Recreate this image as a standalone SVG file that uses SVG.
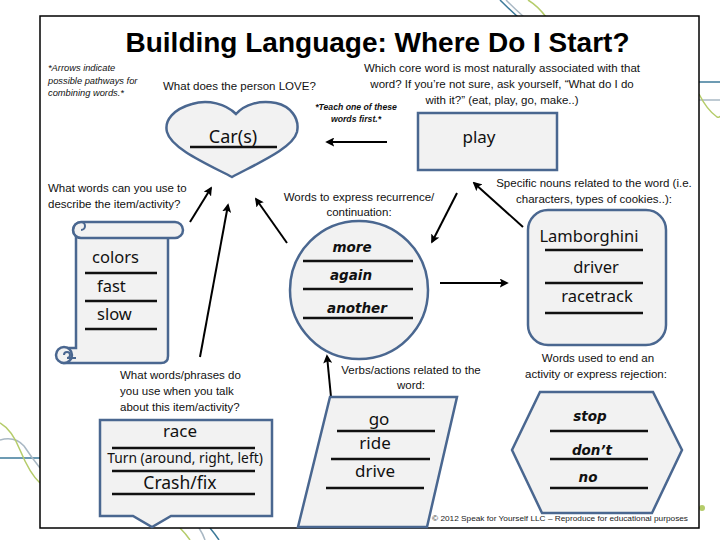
<svg xmlns="http://www.w3.org/2000/svg" width="720" height="540" viewBox="0 0 720 540">
<defs>
<marker id="ah" viewBox="0 0 10 10" refX="8" refY="5" markerWidth="4.5" markerHeight="4.5" markerUnits="strokeWidth" orient="auto">
<path d="M0,0 L10,5 L0,10 L2,5 z" fill="#000"/>
</marker>
<style>
.t{font-family:"Liberation Sans",Arial,sans-serif;font-size:11.5px;fill:#111}
.it{font-family:"Liberation Sans",Arial,sans-serif;font-style:italic;font-size:9.3px;fill:#111}
.bi{font-family:"Liberation Sans",Arial,sans-serif;font-style:italic;font-weight:bold;font-size:8.7px;fill:#111}
.hw{font-family:"Noto Sans",sans-serif;font-size:16.5px;fill:#111;text-anchor:middle}
.cb{font-family:"DejaVu Sans",sans-serif;font-weight:bold;font-style:italic;font-size:13.5px;fill:#111;text-anchor:middle}
.sh{fill:#f2f2f2;stroke:#4a6790;stroke-width:2.5}
.ul{stroke:#111;stroke-width:2.5;fill:none}
.c{text-anchor:middle}
.ar{stroke:#000;stroke-width:2;fill:none;marker-end:url(#ah)}
.deco{fill:none;stroke-width:1.5}
</style>
</defs>
<rect width="720" height="540" fill="#fff"/>
<!-- decorative lines outside frame -->
<g id="decoration">
<path class="deco" stroke="#3d7a9a" d="M500,0 Q508,8 518,17"/>
<path class="deco" stroke="#a9b8c4" d="M506,0 Q514,8 524,17"/>
<path class="deco" stroke="#b5cc6a" d="M528,0 Q538,6 546,17"/>
<path class="deco" stroke="#3d7a9a" d="M699,82 H720"/>
<path class="deco" stroke="#a9b8c4" d="M699,100 H720"/>
<path class="deco" stroke="#b5cc6a" d="M699,94 Q707,110 717,117 Q719,118 720,116"/>
<path class="deco" stroke="#3d7a9a" d="M0,458 H40"/>
<path class="deco" stroke="#a9b8c4" d="M0,440 Q15,436 24,446 Q32,458 40,468"/>
<path class="deco" stroke="#b5cc6a" d="M0,423 Q12,430 20,450 Q30,474 40,483"/>
<path class="deco" stroke="#b5cc6a" d="M180,528 Q186,534 190,540"/>
<path class="deco" stroke="#a9b8c4" d="M199,528 Q203,534 205,540"/>
<path class="deco" stroke="#3d7a9a" d="M210,528 Q215,534 219,540"/>
<circle cx="702" cy="508" r="3" fill="#b5cc6a"/>
</g>
<!-- frame -->
<rect id="frame" x="40" y="16" width="659" height="512" fill="#fff" stroke="#000" stroke-width="1.5"/>
<g id="title">
<text x="377.5" y="52" class="c" style="font-family:'Liberation Sans',Arial,sans-serif;font-weight:bold;font-size:28px;fill:#000">Building Language: Where Do I Start?</text>
</g>
<g id="notes">
<text class="it" x="48" y="71">*Arrows indicate</text>
<text class="it" x="48" y="84">possible pathways for</text>
<text class="it" x="48" y="96">combining words.*</text>
<text class="bi c" x="356" y="110">*Teach one of these</text>
<text class="bi c" x="356" y="122">words first.*</text>
<text class="t" x="163" y="90">What does the person LOVE?</text>
<text class="t c" x="502" y="72">Which core word is most naturally associated with that</text>
<text class="t c" x="502" y="88">word? If you’re not sure, ask yourself, “What do I do</text>
<text class="t c" x="502" y="104">with it?” (eat, play, go, make..)</text>
<text class="t" x="48" y="192">What words can you use to</text>
<text class="t" x="48" y="208">describe the item/activity?</text>
<text class="t c" x="359" y="201">Words to express  recurrence/</text>
<text class="t c" x="359" y="216">continuation:</text>
<text class="t c" x="594" y="187">Specific nouns related to the word (i.e.</text>
<text class="t c" x="594" y="203">characters, types of cookies..):</text>
<text class="t c" x="598" y="362">Words used to end an</text>
<text class="t c" x="596" y="378">activity or express rejection:</text>
<text class="t c" x="411" y="374">Verbs/actions related to the</text>
<text class="t c" x="411" y="389">word:</text>
<text class="t" x="120" y="379">What words/phrases do</text>
<text class="t" x="120" y="395">you use when you talk</text>
<text class="t" x="120" y="411">about this item/activity?</text>
<text x="432" y="521" style="font-family:'Liberation Sans',Arial,sans-serif;font-size:8px;fill:#222" textLength="256" lengthAdjust="spacingAndGlyphs">© 2012 Speak for Yourself LLC – Reproduce for educational purposes</text>
</g>
<g id="connectors">
<line class="ar" x1="387" y1="142" x2="327" y2="142"/>
<line class="ar" x1="190" y1="222" x2="211" y2="188"/>
<line class="ar" x1="200" y1="357" x2="228" y2="205"/>
<line class="ar" x1="287" y1="243" x2="256" y2="199"/>
<line class="ar" x1="457" y1="193" x2="432" y2="242"/>
<line class="ar" x1="523" y1="227" x2="474" y2="183"/>
<line class="ar" x1="440" y1="283" x2="507" y2="283"/>
<line class="ar" x1="331" y1="397" x2="327" y2="356"/>
</g>
<g id="heart">
<path class="sh" d="M236,114 C226,104 208,99 192,104 C174,109 164,120 167,132 C171,148 205,163 232,177 C258,163 293,148 297,132 C300,118 290,106 276,103 C260,100 245,104 236,114 Z"/>
<text class="hw" x="233" y="143" style="font-size:18px">Car(s)</text>
<line class="ul" x1="190" y1="147" x2="277" y2="147"/>
</g>
<g id="play">
<rect class="sh" x="418" y="113" width="139" height="57"/>
<text class="hw" x="479" y="143" style="font-size:17px">play</text>
</g>
<g id="describe-scroll">
<path class="sh" d="M76,234 H168 V356 Q168,363 161,363 H64 V348 H76 Z"/>
<circle class="sh" cx="64" cy="355" r="8"/>
<path d="M64,355 a3,3 0 1 1 3,3 H76" fill="none" stroke="#4a6790" stroke-width="2"/>
<rect class="sh" x="73" y="222" width="110" height="16" rx="8"/>
<path d="M81,238 a8,8 0 0 1 0,-16 a4,4 0 0 1 0,8" fill="none" stroke="#4a6790" stroke-width="2"/>
<text class="hw" x="92" y="263" style="text-anchor:start">colors</text>
<line class="ul" x1="85" y1="273" x2="157" y2="273"/>
<text class="hw" x="97" y="292" style="text-anchor:start">fast</text>
<line class="ul" x1="85" y1="301" x2="157" y2="301"/>
<text class="hw" x="97" y="320" style="text-anchor:start">slow</text>
<line class="ul" x1="85" y1="329" x2="157" y2="329"/>
</g>
<g id="recurrence-circle">
<circle class="sh" cx="359" cy="290" r="69"/>
<text class="cb" x="352" y="252">more</text>
<line class="ul" x1="303" y1="261" x2="413" y2="261"/>
<text class="cb" x="351" y="280">again</text>
<line class="ul" x1="303" y1="289" x2="413" y2="289"/>
<text class="cb" x="357" y="313">another</text>
<line class="ul" x1="303" y1="318" x2="413" y2="318"/>
</g>
<g id="nouns-box">
<rect class="sh" x="528" y="210" width="138" height="135" rx="20"/>
<text class="hw" x="589" y="242">Lamborghini</text>
<line class="ul" x1="545" y1="250" x2="643" y2="250"/>
<text class="hw" x="596" y="273">driver</text>
<line class="ul" x1="545" y1="283" x2="643" y2="283"/>
<text class="hw" x="597" y="302">racetrack</text>
<line class="ul" x1="545" y1="313" x2="643" y2="313"/>
</g>
<g id="phrases-callout">
<path class="sh" d="M100,420 H272 V516 H171 L152,527 L133,516 H100 Z"/>
<text class="hw" x="180" y="437" style="font-size:17px">race</text>
<line class="ul" x1="112" y1="448" x2="255" y2="448"/>
<text class="hw" x="185" y="463" style="font-size:13.8px">Turn (around, right, left)</text>
<line class="ul" x1="112" y1="471" x2="255" y2="471"/>
<text class="hw" x="180" y="489" style="font-size:17.5px">Crash/fix</text>
<line class="ul" x1="112" y1="494" x2="255" y2="494"/>
</g>
<g id="verbs-parallelogram">
<path class="sh" d="M330,397 H457 L427,527 H298 Z"/>
<text class="hw" x="379" y="425" style="font-size:17px">go</text>
<line class="ul" x1="337" y1="431" x2="435" y2="431"/>
<text class="hw" x="375" y="449" style="font-size:17px">ride</text>
<line class="ul" x1="331" y1="459" x2="430" y2="459"/>
<text class="hw" x="375" y="477" style="font-size:17px">drive</text>
<line class="ul" x1="326" y1="488" x2="424" y2="488"/>
</g>
<g id="rejection-hexagon">
<path class="sh" d="M540,392 H653 L682,450 L652,513 H542 L512,450 Z"/>
<text class="cb" x="590" y="421">stop</text>
<line class="ul" x1="550" y1="431" x2="648" y2="431"/>
<text class="cb" x="592" y="455">don’t</text>
<line class="ul" x1="550" y1="459" x2="648" y2="459"/>
<text class="cb" x="588" y="482">no</text>
<line class="ul" x1="550" y1="488" x2="648" y2="488"/>
</g>
</svg>
